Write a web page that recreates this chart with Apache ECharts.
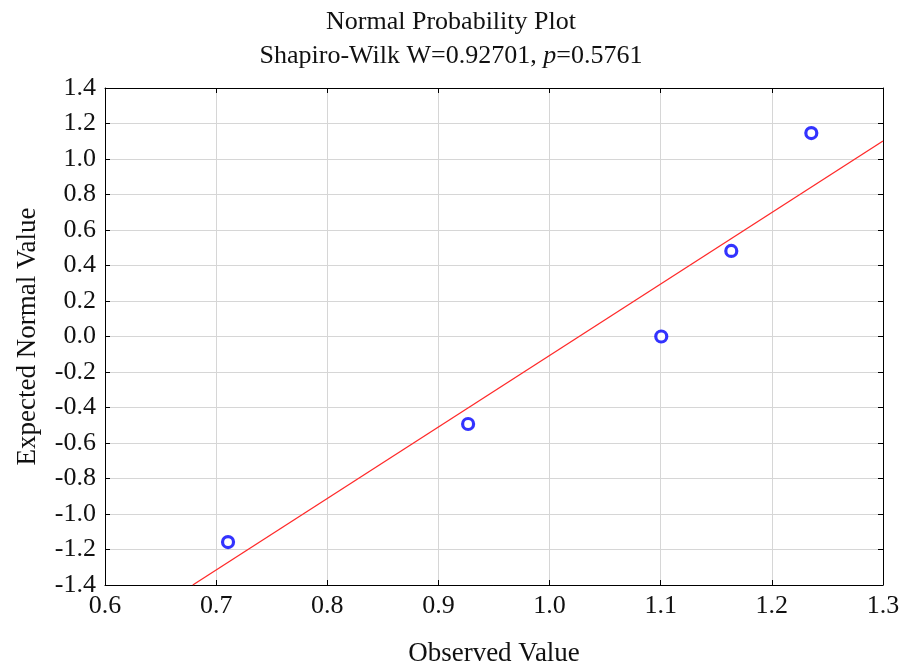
<!DOCTYPE html>
<html><head><meta charset="utf-8">
<script src="https://cdn.jsdelivr.net/npm/echarts@6/dist/echarts.min.js"></script>
<style>html,body{margin:0;padding:0;background:#fff}#c{width:902px;height:666px}</style>
</head><body><div id="c"></div>
<script>
const observed = [0.7107, 0.9267, 1.1005, 1.1635, 1.2355];
const expected = [-1.158, -0.493, 0.0, 0.482, 1.146];
const fitLine = [[0.679, -1.4], [1.3, 1.101]];
const titleText = 'Normal Probability Plot';
const subtitleW = '0.92701';
const subtitleP = '0.5761';
const xName = 'Observed Value';
const yName = 'Expected Normal Value';

const F = 'Liberation Serif';
const chart = echarts.init(document.getElementById('c'));
chart.setOption({
  animation:false,
  title:[
    {text:titleText, left:'center', top:4, textStyle:{fontFamily:F, fontSize:26, fontWeight:'normal', color:'#111'}},
    {text:'Shapiro-Wilk W=' + subtitleW + ', {i|p}=' + subtitleP, left:'center', top:38,
     textStyle:{fontFamily:F, fontSize:26, fontWeight:'normal', color:'#111',
       rich:{i:{fontFamily:F, fontSize:26, fontStyle:'italic', color:'#111'}}}}
  ],
  grid:{left:105, right:19, top:88, bottom:81, containLabel:false, outerBoundsMode:'none'},
  xAxis:[
    {type:'value', min:0.6, max:1.3, interval:0.1, position:'bottom',
     name:xName, nameLocation:'middle', nameGap:55,
     nameTextStyle:{fontFamily:F, fontSize:27, color:'#111'},
     axisLine:{show:true, onZero:false, lineStyle:{color:'#000', width:1}},
     axisTick:{show:true, inside:true, length:5, lineStyle:{color:'#000'}},
     axisLabel:{fontFamily:F, fontSize:26, color:'#111', margin:8, formatter:v=>v.toFixed(1)},
     splitLine:{show:true, lineStyle:{color:'#d6d6d6', width:1}}},
    {type:'value', min:0.6, max:1.3, interval:0.1, position:'top',
     axisLine:{show:true, onZero:false, lineStyle:{color:'#000', width:1}},
     axisTick:{show:true, inside:true, length:5, lineStyle:{color:'#000'}},
     axisLabel:{show:false}, splitLine:{show:false}}
  ],
  yAxis:[
    {type:'value', min:-1.4, max:1.4, interval:0.2, position:'left',
     name:yName, nameLocation:'middle', nameGap:64, nameRotate:90,
     nameTextStyle:{fontFamily:F, fontSize:27, color:'#111'},
     axisLine:{show:true, onZero:false, lineStyle:{color:'#000', width:1}},
     axisTick:{show:true, inside:true, length:5, lineStyle:{color:'#000'}},
     axisLabel:{fontFamily:F, fontSize:26, color:'#111', margin:9, formatter:v=>v.toFixed(1)},
     splitLine:{show:true, lineStyle:{color:'#d6d6d6', width:1}}},
    {type:'value', min:-1.4, max:1.4, interval:0.2, position:'right',
     axisLine:{show:true, onZero:false, lineStyle:{color:'#000', width:1}},
     axisTick:{show:true, inside:true, length:5, lineStyle:{color:'#000'}},
     axisLabel:{show:false}, splitLine:{show:false}}
  ],
  series:[
    {type:'line', data:fitLine, showSymbol:false, symbol:'none', silent:true,
     lineStyle:{color:'#ff2a2a', width:1.3}, z:2},
    {type:'scatter', data:observed.map((x,i)=>[x, expected[i]]),
     symbol:'circle', symbolSize:11,
     itemStyle:{color:'#fff', borderColor:'#0000ff', borderWidth:3.2}, z:3}
  ]
});
</script></body></html>
